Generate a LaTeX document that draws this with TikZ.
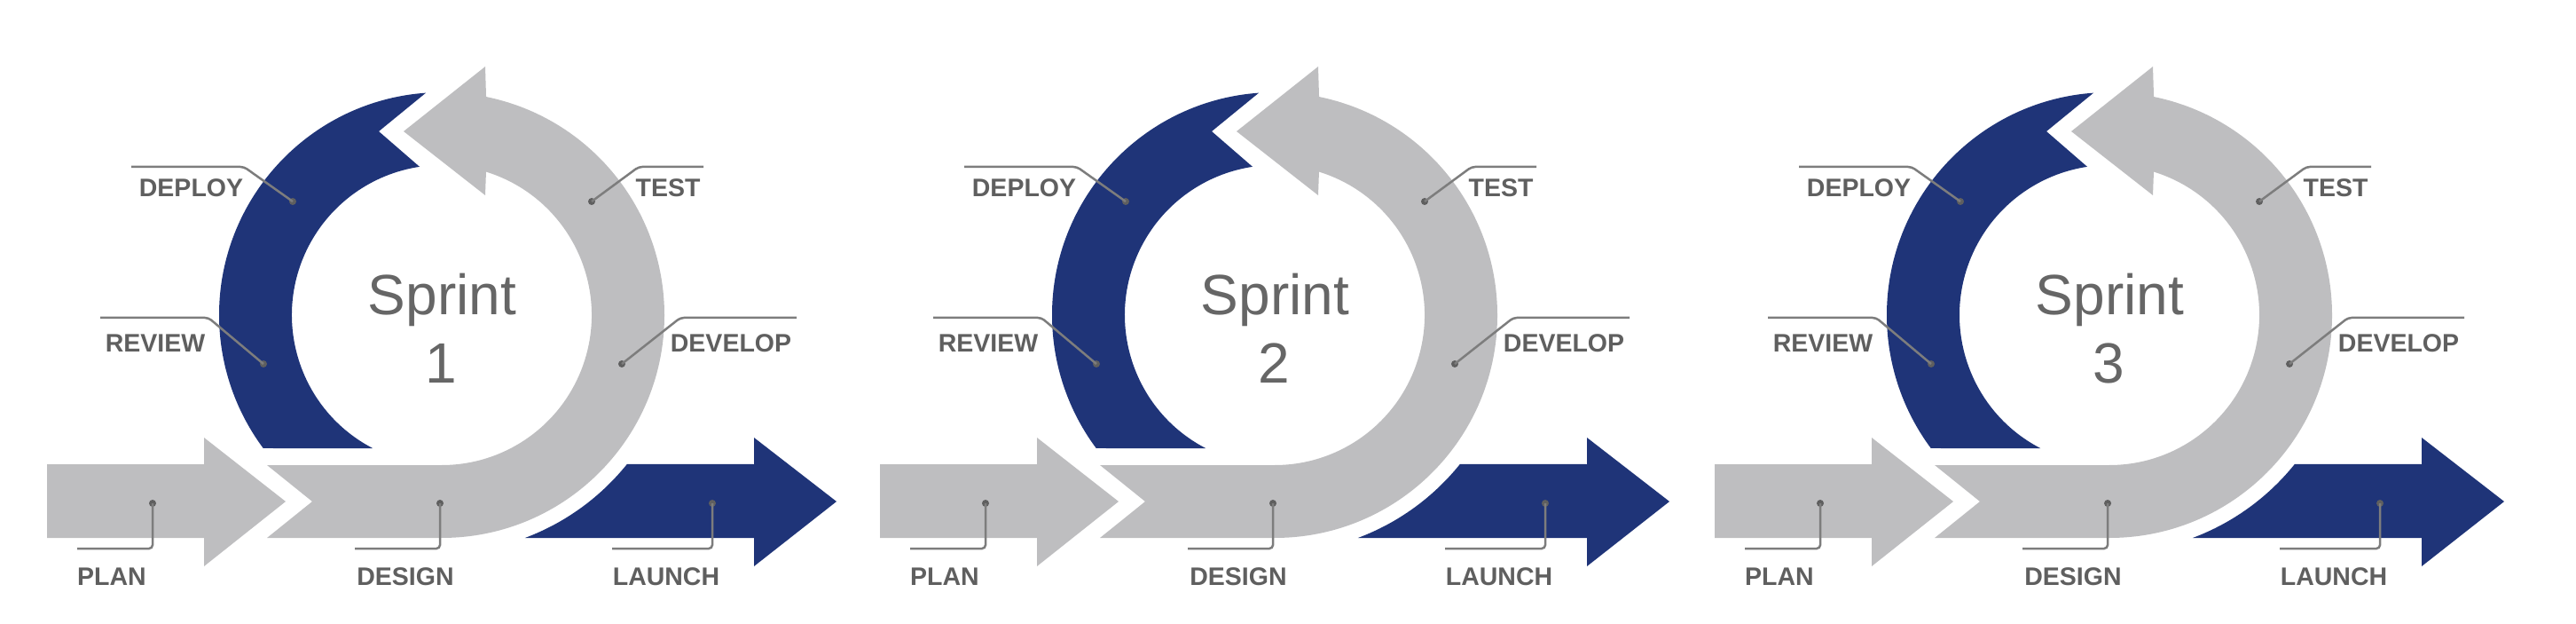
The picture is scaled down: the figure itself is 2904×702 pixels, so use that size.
\documentclass[tikz,border=0pt]{standalone}
\usepackage{xcolor}
\usepackage{fontspec}
\setmainfont{Liberation Sans}
\usepackage{tikz}
\usetikzlibrary{calc}

\definecolor{bandgray}{RGB}{190,190,192}
\definecolor{bandblue}{RGB}{31,52,120}
\definecolor{labelgray}{RGB}{95,95,95}
\definecolor{leadergray}{RGB}{125,125,125}
\definecolor{sprintgray}{RGB}{102,102,102}

\begin{document}
\begin{tikzpicture}[x=1pt, y=1pt,
    phaselabel/.style={font=\fontsize{28.5}{30}\selectfont\bfseries, text=labelgray, anchor=base, inner sep=0pt},
    sprinttext/.style={font=\fontsize{64}{77}\selectfont, text=sprintgray, anchor=base, inner sep=0pt},
    pindot/.style={circle, fill=labelgray, inner sep=0pt, minimum size=8pt},
    leader/.style={draw=leadergray, line width=2.5pt, rounded corners=4pt},
    grayband/.style={fill=bandgray},
    blueband/.style={fill=bandblue}
]
    \useasboundingbox (0,0) rectangle (2904,702);

    \foreach \i/\dx in {1/0, 2/939, 3/1880} {
    \begin{scope}[xshift=\dx pt]
        \coordinate (c\i) at (498,347);

        % arrows
        \fill[grayband] (53,179) -- (230,179) -- (230,209) -- (322,137) -- (230,64) -- (230,96) -- (53,96) -- cycle;
        \fill[grayband] (301,178) -- (352,137) -- (301,96) -- (498,96)
            arc[start angle=-90, end angle=78.5, radius=251pt] -- (547,627) -- (455,554) -- (547,482)
            -- ($(c\i)+(72.8:169pt)$) arc[start angle=72.8, end angle=-90, radius=169pt] -- cycle;
        \fill[blueband] ($(c\i)+(94.1:251pt)$) arc[start angle=94.1, end angle=216.7, radius=251pt]
            -- ($(c\i)+(242.6:169pt)$) arc[start angle=242.6, end angle=98.5, radius=169pt] -- (427,554) -- cycle;
        \fill[blueband] ($(c\i)+(-69.5:268pt)$) arc[start angle=-69.5, end angle=-38.8, radius=268pt]
            -- (850,179) -- (850,209) -- (943,137) -- (850,64) -- (850,96) -- cycle;

        \node[sprinttext] (sprint\i) at (498.5,347) {Sprint};
        \node[sprinttext] (num\i) at (497,270) {\i};

        % labels
        \node[phaselabel] (deploy\i) at (215.5,480) {DEPLOY};
        \node[phaselabel] (review\i) at (175,305) {REVIEW};
        \node[phaselabel] (test\i) at (753,480) {TEST};
        \node[phaselabel] (develop\i) at (824,305) {DEVELOP};
        \node[phaselabel] (plan\i) at (126,43) {PLAN};
        \node[phaselabel] (design\i) at (457,43) {DESIGN};
        \node[phaselabel] (launch\i) at (751,43) {LAUNCH};

        \node[pindot] (pdeploy\i) at (330,475) {};
        \node[pindot] (preview\i) at (297,292) {};
        \node[pindot] (ptest\i) at (667,475) {};
        \node[pindot] (pdevelop\i) at (701,292) {};
        \node[pindot] (pplan\i) at (172,135) {};
        \node[pindot] (pdesign\i) at (496,135) {};
        \node[pindot] (plaunch\i) at (803,135) {};

        \coordinate (edeploy\i) at (148,514);
        \coordinate (ereview\i) at (113,344);
        \coordinate (etest\i) at (793,514);
        \coordinate (edevelop\i) at (898,344);
        \coordinate (eplan\i) at (87,84);
        \coordinate (edesign\i) at (400,84);
        \coordinate (elaunch\i) at (690,84);

        \draw[leader] (pdeploy\i.center) -- (275,514) -- (edeploy\i);
        \draw[leader] (preview\i.center) -- (235,344) -- (ereview\i);
        \draw[leader] (ptest\i.center) -- (720,514) -- (etest\i);
        \draw[leader] (pdevelop\i.center) -- (767,344) -- (edevelop\i);
        \draw[leader] (pplan\i.center) |- (eplan\i);
        \draw[leader] (pdesign\i.center) |- (edesign\i);
        \draw[leader] (plaunch\i.center) |- (elaunch\i);
    \end{scope}
    }
\end{tikzpicture}
\end{document}
